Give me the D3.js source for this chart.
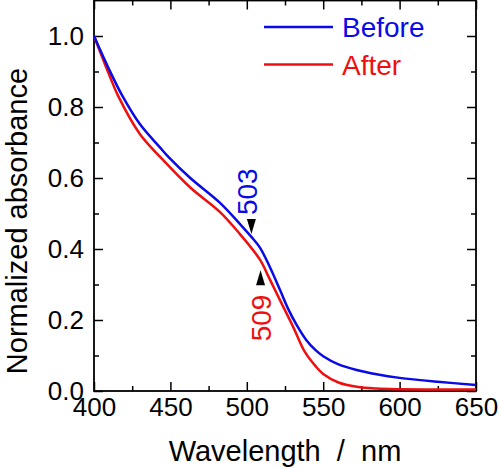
<!DOCTYPE html>
<html><head><meta charset="utf-8">
<script src="https://cdn.jsdelivr.net/npm/d3@7"></script>
<style>
body{margin:0;background:#fff}
svg{display:block}
text{font-family:"Liberation Sans",Arial,sans-serif}
</style>
</head><body>
<svg id="chart" width="500" height="469"></svg>
<script>
// ---- data ----
const xTickValues = [400, 450, 500, 550, 600, 650];
const xMinorValues = [425, 475, 525, 575, 625];
const yTickValues = [0.0, 0.2, 0.4, 0.6, 0.8, 1.0];
const yMinorValues = [0.1, 0.3, 0.5, 0.7, 0.9];

const beforeWl  = [400, 410, 418.5, 430, 443, 449, 463, 482.5, 496, 503, 508.6, 515, 521.7, 527, 532.6, 539, 545, 550, 560, 572, 585, 600, 625, 650];
const beforeAbs = [1.0, 0.905, 0.832, 0.752, 0.687, 0.658, 0.600, 0.530, 0.468, 0.434, 0.404, 0.35, 0.285, 0.232, 0.186, 0.143, 0.115, 0.098, 0.075, 0.059, 0.047, 0.037, 0.026, 0.017];

const afterWl  = [400, 410, 415.7, 430, 443.6, 462.8, 482.5, 495.5, 508.6, 515, 521.7, 530.4, 538, 545, 550, 560, 572, 585, 600, 625, 650];
const afterAbs = [1.0, 0.89, 0.832, 0.724, 0.658, 0.574, 0.504, 0.442, 0.37, 0.315, 0.256, 0.18, 0.11, 0.07, 0.048, 0.024, 0.012, 0.007, 0.005, 0.004, 0.004];

const seriesNames  = ["Before", "After"];
const seriesColors = ["#0a0ae6", "#ee1010"];

const peakLabels = ["503", "509"];
const peakWl     = [503, 509];
const peakArrowAbs = [0.442, 0.34];   // tip of arrow marker
const peakDir      = ["down", "up"];

// ---- layout ----
const L = 94, R = 476, T = 0.5, B = 391;
const svg = d3.select("#chart");

const x = d3.scaleLinear().domain([400, 650]).range([L, R]);
const y = d3.scaleLinear().domain([0, 1.1]).range([B, T]);

const tickFont = 26;

function styleAxis(g){
  g.select(".domain").remove();
  g.selectAll(".tick line").attr("stroke", "#000").attr("stroke-width", 1.5);
  g.selectAll("text").attr("font-size", tickFont).attr("fill", "#000");
}

// bottom
svg.append("g").attr("transform", `translate(0,${B})`)
  .call(d3.axisBottom(x).tickValues(xTickValues).tickSizeInner(-9).tickSizeOuter(0).tickPadding(7).tickFormat(d3.format("d")))
  .call(styleAxis);
svg.append("g").attr("transform", `translate(0,${B})`)
  .call(d3.axisBottom(x).tickValues(xMinorValues).tickSizeInner(-5).tickSizeOuter(0).tickFormat(""))
  .call(styleAxis);
// top
svg.append("g").attr("transform", `translate(0,${T})`)
  .call(d3.axisTop(x).tickValues(xTickValues).tickSizeInner(-9).tickSizeOuter(0).tickFormat(""))
  .call(styleAxis);
svg.append("g").attr("transform", `translate(0,${T})`)
  .call(d3.axisTop(x).tickValues(xMinorValues).tickSizeInner(-5).tickSizeOuter(0).tickFormat(""))
  .call(styleAxis);
// left
svg.append("g").attr("transform", `translate(${L},0)`)
  .call(d3.axisLeft(y).tickValues(yTickValues).tickSizeInner(-9).tickSizeOuter(0).tickPadding(10).tickFormat(d3.format(".1f")))
  .call(styleAxis);
svg.append("g").attr("transform", `translate(${L},0)`)
  .call(d3.axisLeft(y).tickValues(yMinorValues).tickSizeInner(-5).tickSizeOuter(0).tickFormat(""))
  .call(styleAxis);
// right
svg.append("g").attr("transform", `translate(${R},0)`)
  .call(d3.axisRight(y).tickValues(yTickValues).tickSizeInner(-9).tickSizeOuter(0).tickFormat(""))
  .call(styleAxis);
svg.append("g").attr("transform", `translate(${R},0)`)
  .call(d3.axisRight(y).tickValues(yMinorValues).tickSizeInner(-5).tickSizeOuter(0).tickFormat(""))
  .call(styleAxis);

// frame
svg.append("rect").attr("x", L).attr("y", T).attr("width", R - L).attr("height", B - T)
  .attr("fill", "none").attr("stroke", "#000").attr("stroke-width", 1.8);

// curves
const line = d3.line().x(d => x(d[0])).y(d => y(d[1])).curve(d3.curveCatmullRom.alpha(0.5));
const series = [
  d3.zip(beforeWl, beforeAbs),
  d3.zip(afterWl, afterAbs)
];
svg.append("path").datum(series[1]).attr("d", line).attr("fill", "none")
  .attr("stroke", seriesColors[1]).attr("stroke-width", 2.5);
svg.append("path").datum(series[0]).attr("d", line).attr("fill", "none")
  .attr("stroke", seriesColors[0]).attr("stroke-width", 2.5);

// peak markers
peakWl.forEach((wl, i) => {
  const px = x(wl), py = y(peakArrowAbs[i]);
  const hw = 4.5, h = 15;
  let pts;
  if (peakDir[i] === "down") pts = [[px - hw, py - h], [px + hw, py - h], [px, py]];
  else pts = [[px - hw, py + h], [px + hw, py + h], [px, py]];
  svg.append("path").attr("d", d3.line()(pts) + "Z").attr("fill", "#000");
  const g = svg.append("text")
    .attr("font-size", 28)
    .attr("fill", seriesColors[i])
    .attr("text-anchor", "start");
  if (peakDir[i] === "down") {
    g.attr("transform", `translate(${px + 6},${py - h - 4}) rotate(-90)`);
  } else {
    g.attr("transform", `translate(${px + 10},${py + h + 56}) rotate(-90)`);
  }
  g.text(peakLabels[i]);
});

// legend
seriesNames.forEach((name, i) => {
  const ly = 27 + i * 37.5;
  svg.append("line").attr("x1", 264).attr("x2", 333).attr("y1", ly).attr("y2", ly)
    .attr("stroke", seriesColors[i]).attr("stroke-width", 2.5);
  svg.append("text").attr("x", 342).attr("y", ly + 10).attr("font-size", 28)
    .attr("fill", seriesColors[i]).text(name);
});

// axis titles
svg.append("text").attr("x", (L + R) / 2).attr("y", 461).attr("text-anchor", "middle")
  .attr("font-size", 29).attr("fill", "#000").attr("xml:space", "preserve")
  .text("Wavelength  /  nm");
svg.append("text").attr("transform", `translate(27,221) rotate(-90)`)
  .attr("text-anchor", "middle").attr("font-size", 29).attr("fill", "#000")
  .text("Normalized absorbance");
</script>
</body></html>
